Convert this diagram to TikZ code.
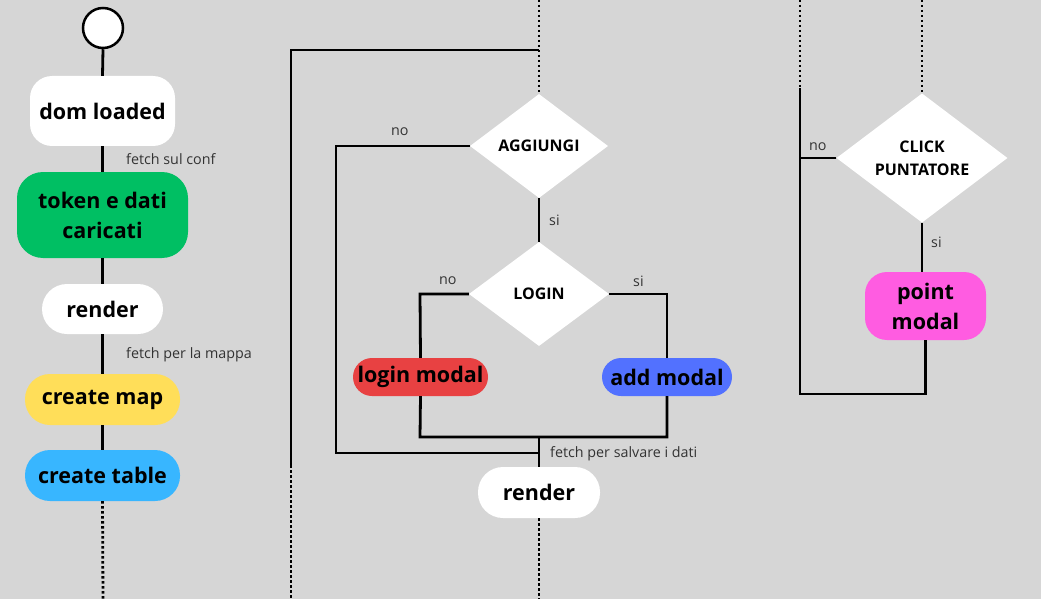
\documentclass[tikz,border=0pt]{standalone}
\usepackage{fontspec}
\setmainfont{Open Sans}
\usetikzlibrary{shapes.geometric}
\definecolor{bg}{HTML}{D6D6D6}
\definecolor{cgreen}{HTML}{00BF63}
\definecolor{cyellow}{HTML}{FFDE59}
\definecolor{cblue}{HTML}{38B6FF}
\definecolor{cred}{HTML}{E84142}
\definecolor{cblue2}{HTML}{5271FF}
\definecolor{cpink}{HTML}{FF5CE1}
\definecolor{lblgray}{HTML}{333333}
\tikzset{
  box/.style={rounded corners=#1, inner sep=0pt, align=center, text=black,
    font=\fontsize{21.5}{30}\selectfont\bfseries},
  dia/.style={diamond, fill=white, inner sep=0pt, align=center, text=black,
    font=\fontsize{16}{23}\selectfont\bfseries},
  lbl/.style={inner sep=0pt, anchor=west, text=lblgray,
    font=\fontsize{14.3}{16}\selectfont},
  ln/.style={line width=2.8pt, line join=miter},
  dotln/.style={line width=2.8pt, dash pattern=on 2.5pt off 2.5pt},
}
\begin{document}
\begin{tikzpicture}[x=1pt,y=-1pt]
\fill[bg] (0,0) rectangle (1041,599);
\useasboundingbox (0,0) rectangle (1041,599);

% ---------- left column ----------
\node[circle, draw, line width=2.5pt, fill=white, minimum size=40pt, inner sep=0pt] (start) at (103,28) {};
\node[box=22pt, fill=white, minimum width=145pt, minimum height=70pt] (dom) at (102.5,111) {dom loaded};
\node[box=26pt, fill=cgreen, minimum width=171pt, minimum height=86pt] (tok) at (102.5,215) {token e dati\\caricati};
\node[box=25pt, fill=white, minimum width=121pt, minimum height=50pt] (rend1) at (102.5,309) {render};
\node[box=25pt, fill=cyellow, minimum width=155pt, minimum height=51pt] (map) at (102.5,399.5) {create map};
\node[box=25pt, fill=cblue, minimum width=155pt, minimum height=51pt] (tab) at (102.5,475.5) {create table};
\coordinate (leftend) at (103,599);

\draw[ln] (start.south) -- (dom.north);
\draw[ln] (dom.south) -- (tok.north);
\draw[ln] (tok.south) -- (rend1.north);
\draw[ln] (rend1.south) -- (map.north);
\draw[ln] (map.south) -- (tab.north);
\draw[dotln] (tab.south) -- (leftend);
\node[lbl] (l1) at (126,159) {fetch sul conf};
\node[lbl] (l2) at (126,355) {fetch per la mappa};

% ---------- middle ----------
\coordinate (mtop) at (539,0);
\coordinate (mcorner) at (539,50);
\coordinate (outerTL) at (291,50);
\coordinate (outerB) at (291,465);
\coordinate (outerEnd) at (291,599);
\node[dia, minimum width=138pt, minimum height=104pt] (agg) at (539,146) {AGGIUNGI};
\node[dia, minimum width=140pt, minimum height=104pt] (login) at (539,294) {LOGIN};
\node[box=19pt, fill=cred, minimum width=135pt, minimum height=38pt] (lmod) at (420.5,377) {login modal};
\node[box=19pt, fill=cblue2, minimum width=130pt, minimum height=38pt] (amod) at (667,377) {add modal};
\node[box=25pt, fill=white, minimum width=122pt, minimum height=51pt] (rend2) at (539,492.5) {render};
\coordinate (mend) at (539,599);
\coordinate (joinA) at (539,437);
\coordinate (joinB) at (539,453);

\draw[dotln] (mtop) -- (agg.north);
\draw[ln] (mcorner) -- (outerTL) -- (outerB);
\draw[dotln] (outerB) -- (outerEnd);
\draw[ln] (agg.west) -- (336,146) -- (336,453) -- (joinB);
\draw[ln] (agg.south) -- (login.north);
\draw[ln] (login.west) -- (420,294) -- (lmod.north);
\draw[ln] (login.east) -- (667,294) -- (amod.north);
\draw[ln] (lmod.south) -- (420,437) -- (667,437) -- (amod.south);
\draw[ln] (joinA) -- (rend2.north);
\draw[dotln] (rend2.south) -- (mend);
\node[lbl] (n1) at (391,132) {no};
\node[lbl] (s1) at (549,220) {si};
\node[lbl] (n2) at (439,281) {no};
\node[lbl] (s2) at (633,281) {si};
\node[lbl] (l3) at (550,454) {fetch per salvare i dati};

% ---------- right ----------
\coordinate (rtopL) at (800,0);
\coordinate (rdotL) at (800,88);
\coordinate (rbotL) at (800,394);
\coordinate (rtop) at (922,0);
\node[dia, minimum width=171pt, minimum height=126pt] (click) at (922,158) {CLICK\\PUNTATORE};
\node[box=22pt, fill=cpink, minimum width=121pt, minimum height=68pt] (pmod) at (925.5,306) {point\\modal};

\draw[dotln] (rtopL) -- (rdotL);
\draw[ln] (rdotL) -- (rbotL) -- (pmod.south |- rbotL) -- (pmod.south);
\draw[dotln] (rtop) -- (click.north);
\draw[ln] (click.west) -- (800,158);
\draw[ln] (click.south) -- (click.south |- pmod.north);
\node[lbl] (n3) at (809,147) {no};
\node[lbl] (s3) at (931,242) {si};
\end{tikzpicture}
\end{document}
